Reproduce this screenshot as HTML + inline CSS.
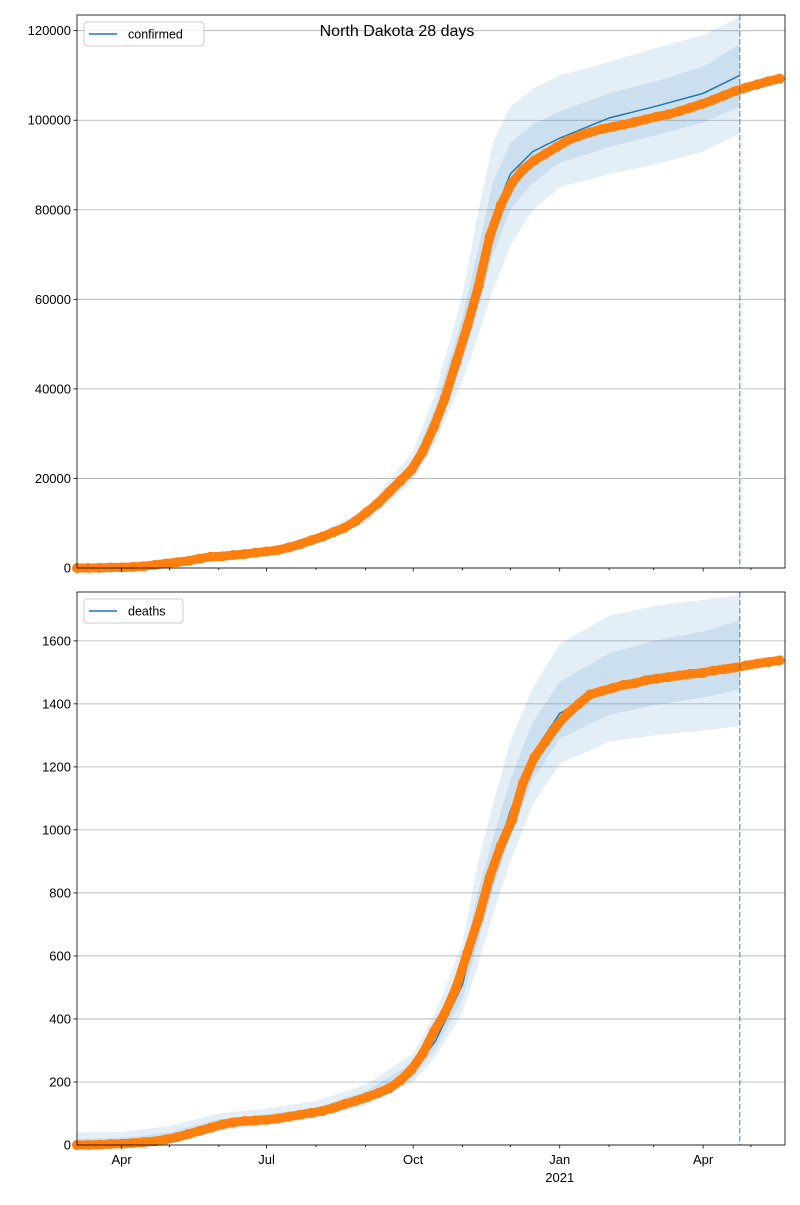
<!DOCTYPE html>
<html><head><meta charset="utf-8"><style>
body{margin:0;background:#fff;}
svg text{font-family:"Liberation Sans",sans-serif;}
</style></head><body>
<svg id="c" width="800" height="1200" xmlns="http://www.w3.org/2000/svg"></svg>
<script>
// Observed weekly data starting 2020-03-04
const obsConfirmed = [0,0,0.03,0.1,0.15,0.25,0.4,0.7,1.0,1.3,1.6,2.1,2.5,2.6,2.9,3.1,3.4,3.7,4.0,4.6,5.3,6.2,7.0,8.0,9.0,10.5,12.5,14.5,17.0,19.5,22.0,26,31.5,38,46,54,63,74,81,86,89,91,92.5,94,95.5,96.5,97.3,98,98.5,99,99.6,100.2,100.8,101.3,102,102.8,103.6,104.5,105.5,106.5,107.3,108,108.7,109.3].map(v=>v*1000);
const obsDeaths = [0,0,1,3,4,6,9,12,18,25,35,45,55,65,72,76,78,80,84,90,96,102,108,118,130,140,152,165,180,205,240,290,360,420,500,610,720,850,950,1030,1150,1230,1280,1330,1370,1400,1430,1440,1450,1460,1465,1475,1480,1485,1490,1495,1498,1505,1510,1515,1522,1528,1533,1538];
// Model (days since 2020-03-04)
const modelDays = [0,28,58,89,119,150,181,211,225,242,251,261,272,286,303,334,362,393,416];
const cMed = [0,0.2,1.1,2.6,3.7,6.5,11.5,22.5,33,51,63,78,88,93,96,100.5,103,106,110].map(v=>v*1000);
const cOutLo = [0,0.1,0.8,2.2,3.2,5.8,10,19.5,28,42,51,62,72,80,85,88,90,93,97].map(v=>v*1000);
const cOutHi = [1,0.5,1.5,3.2,4.3,7.5,13,26,39,61,78,95,103,107,110,113,116,119,123].map(v=>v*1000);
const cInLo = [0,0.15,1,2.4,3.5,6.2,10.8,21,30.5,46,57,70,80,86,90.5,94,96.5,99.5,103].map(v=>v*1000);
const cInHi = [0.5,0.3,1.3,2.9,4,6.9,12.2,24,36,56,70,86,95,99,102,106,108.5,112,117].map(v=>v*1000);
const dMed = [0,4,20,65,80,103,150,235,330,510,700,880,1060,1240,1370,1450,1480,1500,1515];
const dOutLo = [0,0,8,45,62,85,125,200,280,420,560,730,900,1080,1210,1280,1300,1315,1330];
const dOutHi = [40,42,60,100,115,140,190,290,420,640,880,1080,1280,1450,1590,1680,1710,1730,1745];
const dInLo = [0,2,14,55,72,95,138,218,305,465,630,810,980,1160,1290,1365,1395,1420,1445];
const dInHi = [20,22,40,82,97,118,170,262,370,570,790,970,1160,1340,1470,1560,1600,1630,1665];
const monthTicks = [28,58,89,119,150,181,211,242,272,303,334,362,393,423];
const majorTicks = [28,119,211,303,393];
const majorLabels = ["Apr","Jul","Oct","Jan","Apr"];
const cTicks = [0,20000,40000,60000,80000,100000,120000];
const dTicks = [0,200,400,600,800,1000,1200,1400,1600];
const forecastDay = 416;

const NS="http://www.w3.org/2000/svg";
const svg=document.getElementById('c');
function el(t,a,p){const e=document.createElementNS(NS,t);for(const k in a)e.setAttribute(k,a[k]);(p||svg).appendChild(e);return e;}
const X0=77,X1=785,D1=444.4;
const xs=d=>X0+d*(X1-X0)/D1;

function panel(name,top,bot,ymax,ticks,obs,med,olo,ohi,ilo,ihi,label,showX){
  const ys=v=>bot-v/ymax*(bot-top);
  const g=el('g',{});  
  ticks.forEach(t=>{
    const l=el('line',{x1:X0,x2:X1,y1:ys(t),y2:ys(t),stroke:'#b0b0b0','stroke-width':0.8},g);
     
    el('line',{x1:X0-3.5,x2:X0,y1:ys(t),y2:ys(t),stroke:'#000','stroke-width':0.8},g);
    const tx=el('text',{x:X0-6,y:ys(t)+4.5,'text-anchor':'end','font-size':13},g);
    tx.textContent=t;  
  });
  function band(lo,hi,n){
    let d='M'+modelDays.map((x,i)=>xs(x)+','+ys(hi[i])).join('L');
    for(let i=modelDays.length-1;i>=0;i--) d+='L'+xs(modelDays[i])+','+ys(lo[i]);
    const p=el('path',{d:d+'Z',fill:'#1f77b4','fill-opacity':0.12},g);
     
  }
  band(olo,ohi,name+'-outer-band'); band(ilo,ihi,name+'-inner-band');
  const ml=el('polyline',{points:modelDays.map((x,i)=>xs(x)+','+ys(med[i])).join(' '),fill:'none',stroke:'#1f77b4','stroke-width':1.5},g);
   
  const ot=el('polyline',{points:obs.map((v,i)=>xs(i*7)+','+ys(v)).join(' '),fill:'none',stroke:'#ff7f0e','stroke-width':9,'stroke-linecap':'round','stroke-linejoin':'round'},g);
   
  obs.forEach((v,i)=>{
    const c=el('circle',{cx:xs(i*7),cy:ys(v),r:5,fill:'#ff7f0e'},g);
     
  });
  const dl=el('line',{x1:xs(forecastDay),x2:xs(forecastDay),y1:top,y2:bot,stroke:'#1f77b4','stroke-opacity':0.6,'stroke-width':1.5,'stroke-dasharray':'5.5,2.5'},g);
   
  const fr=el('rect',{x:X0,y:top,width:X1-X0,height:bot-top,fill:'none',stroke:'#000','stroke-width':0.8},g);
   
  monthTicks.forEach(m=>{const mj=majorTicks.includes(m);el('line',{x1:xs(m),x2:xs(m),y1:bot,y2:bot+(mj?3.5:2),stroke:'#000','stroke-width':0.8},g);});
  if(showX){
    majorTicks.forEach((m,i)=>{const t=el('text',{x:xs(m),y:bot+19,'text-anchor':'middle','font-size':13},g);t.textContent=majorLabels[i];
       });
    const y=el('text',{x:xs(303),y:bot+37,'text-anchor':'middle','font-size':13},g);y.textContent='2021';
     
  }
  const lg=el('g',{},g);  
  el('rect',{x:84,y:top+7,width:label.length*7+57,height:24,rx:3,fill:'#fff','fill-opacity':0.8,stroke:'#ccc'},lg);
  el('line',{x1:89,x2:117,y1:top+19,y2:top+19,stroke:'#1f77b4','stroke-width':1.5},lg);
  const lt=el('text',{x:128,y:top+23.5,'font-size':12.5},lg); lt.textContent=label;
}
panel('confirmed',15,568,123500,cTicks,obsConfirmed,cMed,cOutLo,cOutHi,cInLo,cInHi,'confirmed',false);
panel('deaths',592,1145,1755,dTicks,obsDeaths,dMed,dOutLo,dOutHi,dInLo,dInHi,'deaths',true);
const tt=el('text',{x:397,y:36,'text-anchor':'middle','font-size':16});tt.textContent='North Dakota 28 days';
 
</script>
</body></html>
